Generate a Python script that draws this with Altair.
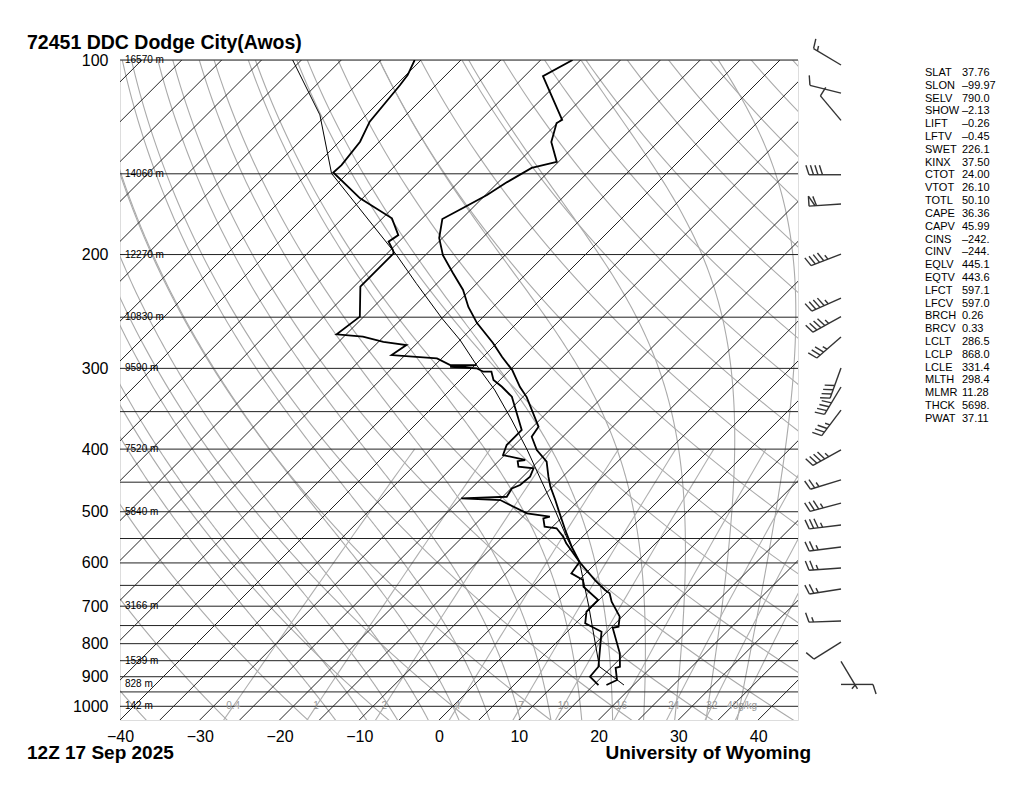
import numpy as np
import pandas as pd
import altair as alt

# ---------------- data ----------------
title_txt = "72451 DDC Dodge City(Awos)"
date_txt = "12Z 17 Sep 2025"
credit_txt = "University of Wyoming"

# temperature profile (hPa, degC)
temp_p = [100, 105.9, 123.8, 125.2, 133.9, 143.8, 146.9, 154.5, 161.8, 169.4, 176.2, 188.6,
          200.4, 213.6, 226.9, 241.1, 255.3, 274.1, 288.1, 301.8, 320.6, 332.3, 369.3, 382.7,
          401.2, 418.3, 441.2, 457.2, 479.6, 502.8, 533.6, 566.3, 598.0, 637.8, 660.7, 668.6,
          688.8, 726.7, 753.0, 755.9, 827.9, 868.5, 872.0, 910.7, 927.0]
temp_t = [-66.0, -67.7, -59.8, -60.1, -58.4, -55.2, -57.6, -58.9, -59.8, -61.2, -62.4, -60.4,
          -57.8, -54.3, -50.9, -48.1, -45.0, -40.5, -37.6, -34.7, -31.6, -29.5, -24.3, -23.9,
          -21.6, -18.9, -16.8, -15.3, -13.0, -10.8, -8.0, -5.1, -2.2, 2.0, 4.5, 5.5,
          6.8, 9.7, 10.8, 10.2, 14.3, 16.0, 15.6, 17.3, 16.6]

# dew point profile
dew_p = [100, 105.5, 109.3, 124.6, 133.8, 145.4, 149.3, 163.7, 175.8, 186.6, 191.0, 196.8,
         199.1, 224.2, 249.5, 265.7, 268.0, 272.9, 276.1, 286.1, 289.5, 296.5, 296.5, 298.3,
         299.9, 303.6, 303.6, 312.7, 320.3, 331.9, 373.6, 394.2, 408.5, 415.8, 417.5, 425.9,
         428.4, 441.2, 454.6, 460.2, 474.0, 476.8, 479.6, 502.8, 508.9, 512.0, 527.4, 530.4,
         546.6, 559.6, 598.0, 622.7, 637.8, 653.1, 684.7, 713.8, 744.0, 766.6, 868.5, 900.1, 927.0]
dew_t = [-85.8, -84.8, -84.5, -83.7, -82.4, -81.8, -81.9, -75.3, -68.8, -65.9, -66.3, -64.7,
         -64.2, -64.2, -60.5, -61.2, -57.6, -54.4, -51.1, -51.7, -45.6, -43.1, -39.8, -42.9,
         -39.4, -38.1, -37.1, -35.8, -33.9, -31.4, -26.0, -26.0, -25.2, -21.8, -22.6, -21.8,
         -19.7, -19.1, -19.3, -19.9, -19.5, -25.0, -19.9, -14.9, -11.6, -12.2, -11.0, -9.3,
         -7.4, -6.2, -2.2, -1.8, 0.5, 1.4, 4.9, 4.9, 6.2, 9.3, 13.3, 13.5, 15.6]

# lifted parcel path
parcel_p = [100, 121.6, 149.8, 200.4, 221.6, 251.0, 271.2, 296.5, 324.0, 360.6, 401.2, 446.6,
            496.9, 553.1, 598.0, 700.0, 868.0, 927.0]
parcel_t = [-101.1, -90.8, -82.0, -63.6, -57.6, -50.0, -45.0, -39.8, -34.4, -28.5, -22.8, -17.3,
            -11.8, -6.4, -2.2, 4.5, 13.4, 18.8]

# winds (hPa, direction deg, speed kt)
wind_p = [101.8, 112.5, 124.0, 150.5, 167.0, 199.7, 233.5, 249.5, 268.3, 299.7, 320.6, 348.1,
          401.2, 446.3, 484.8, 524.2, 567.0, 611.0, 658.4, 738.0, 795.5, 852.0, 925.0]
wind_dir = [301, 284, 320, 270, 266, 249, 246, 241, 229, 200, 211, 217,
            241, 253, 255, 263, 263, 266, 261, 268, 238, 149, 90]
wind_spd = [15, 10, 10, 40, 60, 45, 45, 45, 35, 40, 40, 35,
            45, 25, 35, 35, 25, 25, 25, 15, 10, 5, 10]

height_p = [100, 150, 200, 250, 300, 400, 500, 700, 850, 925, 1000]
height_lbl = ["16570 m", "14060 m", "12270 m", "10830 m", "9590 m", "7520 m", "5840 m",
              "3166 m", "1539 m", "828 m", "142 m"]

mixr_vals = [0.4, 1, 2, 4, 7, 10, 16, 24, 32, 40]
mixr_lbl = ["0.4", "1", "2", "4", "7", "10", "16", "24", "32", "40g/kg"]

x_ticks = [-40, -30, -20, -10, 0, 10, 20, 30, 40]
p_ticks = [100, 200, 300, 400, 500, 600, 700, 800, 900, 1000]
isobar_p = list(range(100, 1001, 50))

stat_names = ["SLAT", "SLON", "SELV", "SHOW", "LIFT", "LFTV", "SWET", "KINX", "CTOT", "VTOT",
              "TOTL", "CAPE", "CAPV", "CINS", "CINV", "EQLV", "EQTV", "LFCT", "LFCV", "BRCH",
              "BRCV", "LCLT", "LCLP", "LCLE", "MLTH", "MLMR", "THCK", "PWAT"]
stat_vals = ["37.76", "\u201399.97", "790.0", "\u20132.13", "\u20130.26", "\u20130.45", "226.1",
             "37.50", "24.00", "26.10", "50.10", "36.36", "45.99", "\u2013242.", "\u2013244.",
             "445.1", "443.6", "597.1", "597.0", "0.26", "0.33", "286.5", "868.0", "331.4",
             "298.4", "11.28", "5698.", "37.11"]

# background families (grid definitions)
isotherm_t = list(range(-125, 50, 5))
dry_theta = list(range(-40, 190, 10))
moist_t1000 = [-16, -12, -8, -4, 0, 4, 8, 12, 16, 20, 24, 28, 32, 36]
MR_TOP = 400.0

# ---------------- geometry of the diagram ----------------
W, H = 678, 660
P_TOP, P_BOT = 100.0, 1050.0
X_MIN, X_MAX = -40.0, 45.0
DEG_PX = W / (X_MAX - X_MIN)
PX_PER_DECADE = H / np.log10(P_BOT / P_TOP)
SKEW = PX_PER_DECADE / DEG_PX  # 45 degree isotherms


def skx(t, p):
    return np.asarray(t, float) + SKEW * np.log10(P_BOT / np.asarray(p, float))


FONT = "Liberation Sans"
xs = alt.Scale(domain=[X_MIN, X_MAX], nice=False, zero=False)
ys = alt.Scale(type="log", domain=[P_TOP, P_BOT], reverse=True, nice=False)

X_AX = alt.Axis(values=x_ticks, ticks=False, domain=False, grid=False, labelFontSize=16,
                labelPadding=8, title=None, labelFont=FONT, labelColor="black",
                labelFlush=False, labelOverlap=False)
Y_AX = alt.Axis(values=p_ticks, ticks=False, domain=False, grid=False, labelFontSize=16,
                labelPadding=12, title=None, labelFont=FONT, labelColor="black",
                labelFlush=False, labelOverlap=False, format="d")


def XE(field="X:Q"):
    return alt.X(field, scale=xs, axis=X_AX)


def YE(field="p:Q"):
    return alt.Y(field, scale=ys, axis=Y_AX)


# ---- background line tables ----
pgrid = np.geomspace(P_TOP * 0.97, P_BOT * 1.01, 80)
rows = []
for k, t0 in enumerate(isotherm_t):
    for i, p in enumerate([P_BOT * 1.01, P_TOP * 0.97]):
        rows.append(dict(id=f"t{k}", i=i, p=p, X=float(skx(t0, p))))
iso_df = pd.DataFrame(rows)

rows = []
for k, th in enumerate(dry_theta):
    T = (th + 273.15) * (pgrid / 1000.0) ** 0.2857 - 273.15
    for i, (p, t) in enumerate(zip(pgrid, T)):
        rows.append(dict(id=f"d{k}", i=i, p=p, X=float(skx(t, p))))
dry_df = pd.DataFrame(rows)


def rs(T, p):
    es = 6.112 * np.exp(17.67 * (T - 273.15) / (T - 29.65))
    return 0.622 * es / (p - es)


def dTdp(T, p):
    Rd, cp, L, eps = 287.04, 1005.7, 2.501e6, 0.622
    r = rs(T, p)
    return (Rd * T + L * r) / (cp + L * L * r * eps / (Rd * T * T)) / p


def moist_path(t0, p_end, n=300):
    ps = np.linspace(1000.0, p_end, n)
    T = t0 + 273.15
    out = [(1000.0, T)]
    for a, b in zip(ps[:-1], ps[1:]):
        h = b - a
        k1 = dTdp(T, a)
        k2 = dTdp(T + h * k1 / 2, a + h / 2)
        k3 = dTdp(T + h * k2 / 2, a + h / 2)
        k4 = dTdp(T + h * k3, b)
        T = T + h * (k1 + 2 * k2 + 2 * k3 + k4) / 6
        out.append((b, T))
    return out


rows = []
for k, t0 in enumerate(moist_t1000):
    up = moist_path(t0, P_TOP * 0.97)
    dn = moist_path(t0, P_BOT * 1.01, 20)
    pts = sorted(dn + up, key=lambda q: -q[0])
    for i, (p, T) in enumerate(pts):
        rows.append(dict(id=f"m{k}", i=i, p=p, X=float(skx(T - 273.15, p))))
moist_df = pd.DataFrame(rows)


def td_from_w(w, p):
    e = w * p / (622.0 + w)
    g = np.log(e / 6.112)
    return 243.5 * g / (17.67 - g)


rows = []
mr_grid = np.geomspace(MR_TOP, P_BOT * 1.01, 30)
for k, w in enumerate(mixr_vals):
    for i, p in enumerate(mr_grid):
        rows.append(dict(id=f"w{k}", i=i, p=p, X=float(skx(td_from_w(w, p), p))))
mr_df = pd.DataFrame(rows)
mr_lbl_df = pd.DataFrame(dict(p=[1000.0] * len(mixr_vals),
                              X=[float(skx(td_from_w(w, 1000.0), 1000.0)) for w in mixr_vals],
                              lbl=mixr_lbl))

prof_df = pd.concat([
    pd.DataFrame(dict(s="T", i=range(len(temp_p)), p=temp_p, X=skx(temp_t, temp_p))),
    pd.DataFrame(dict(s="Td", i=range(len(dew_p)), p=dew_p, X=skx(dew_t, dew_p))),
])
parcel_df = pd.DataFrame(dict(i=range(len(parcel_p)), p=parcel_p, X=skx(parcel_t, parcel_p)))


def bg_layer(df, color, width):
    return alt.Chart(df).mark_line(clip=True, color=color, strokeWidth=width).encode(
        x=XE(), y=YE(), detail="id:N", order="i:Q")


isobars = alt.Chart(pd.DataFrame(dict(p=isobar_p))).mark_rule(
    color="#222", strokeWidth=1).encode(y=YE())

heights = alt.Chart(pd.DataFrame(dict(p=height_p, lbl=height_lbl))).mark_text(
    align="left", baseline="middle", fontSize=10, font=FONT, color="black").encode(
    x=alt.value(5), y=YE(), text="lbl:N")

mr_text = alt.Chart(mr_lbl_df).mark_text(
    align="center", baseline="middle", fontSize=10, font=FONT, color="#999").encode(
    x=XE(), y=YE(), text="lbl:N")

profiles = alt.Chart(prof_df).mark_line(clip=True, color="black", strokeWidth=1.8).encode(
    x=XE(), y=YE(), detail="s:N", order="i:Q")

parcel = alt.Chart(parcel_df).mark_line(clip=True, color="black", strokeWidth=1).encode(
    x=XE(), y=YE(), order="i:Q")

main = alt.layer(
    bg_layer(dry_df, "#aaaaaa", 1.1),
    bg_layer(moist_df, "#aaaaaa", 1.1),
    bg_layer(mr_df, "#b0b0b0", 1.1),
    bg_layer(iso_df, "#222222", 1.0),
    isobars, heights, mr_text, parcel, profiles,
)

# ---- wind barbs (built from direction / speed) ----
BASE_X = 721.0
STAFF, BARB, GAP, PW, SLANT = 32.0, 10.0, 4.5, 6.0, np.deg2rad(18)
segs = []
for p0, d, s in zip(wind_p, wind_dir, wind_spd):
    a = np.deg2rad(d)
    u = np.array([np.sin(a), np.cos(a)])
    r = np.array([u[1], -u[0]])
    fv = np.cos(SLANT) * r + np.sin(SLANT) * u

    def add(p1, p2):
        segs.append(dict(x0=BASE_X + p1[0], x1=BASE_X + p2[0],
                         p0=p0 * 10 ** (-p1[1] / PX_PER_DECADE),
                         p1=p0 * 10 ** (-p2[1] / PX_PER_DECADE)))

    add(np.zeros(2), STAFF * u)
    n50, rem = divmod(int(round(s / 5.0)) * 5, 50)
    n10, rem = divmod(rem, 10)
    n5 = rem // 5
    t = STAFF
    for _ in range(n50):
        a1, a2 = t * u, (t - PW) * u
        apex = t * u + BARB * r
        add(a1, apex)
        add(apex, a2)
        t -= PW + 1.5
    for _ in range(n10):
        add(t * u, t * u + BARB * fv)
        t -= GAP
    if n5:
        if n50 == 0 and n10 == 0:
            t -= GAP
        add(t * u, t * u + 0.5 * BARB * fv)
barb_df = pd.DataFrame(segs)

barbs = alt.Chart(barb_df).mark_rule(color="#333", strokeWidth=1.4).encode(
    x=alt.X("x0:Q", scale=alt.Scale(domain=[0, W], nice=False, zero=False), axis=None),
    x2="x1:Q",
    y=YE("p0:Q"), y2="p1:Q")

one = alt.Data(values=[{"a": 1}])
names_txt = alt.Chart(one).mark_text(
    text=stat_names, lineHeight=12.81, align="left", baseline="alphabetic",
    fontSize=11, font=FONT, color="black").encode(x=alt.value(805), y=alt.value(16))
vals_txt = alt.Chart(one).mark_text(
    text=stat_vals, lineHeight=12.81, align="left", baseline="alphabetic",
    fontSize=11, font=FONT, color="black").encode(x=alt.value(842), y=alt.value(16))

t1 = alt.Chart(one).mark_text(text=title_txt, align="left", baseline="alphabetic",
                              fontSize=19.5, fontWeight="bold", font=FONT, color="black").encode(
    x=alt.value(-93), y=alt.value(-11))
t2 = alt.Chart(one).mark_text(text=date_txt, align="left", baseline="alphabetic",
                              fontSize=19, fontWeight="bold", font=FONT, color="black").encode(
    x=alt.value(-93), y=alt.value(699))
t3 = alt.Chart(one).mark_text(text=credit_txt, align="right", baseline="alphabetic",
                              fontSize=19, fontWeight="bold", font=FONT, color="black").encode(
    x=alt.value(691), y=alt.value(699))

chart = alt.layer(main, barbs, names_txt, vals_txt, t1, t2, t3).resolve_scale(
    x="independent").properties(
    width=W, height=H,
    padding={"left": 112, "top": 52, "right": 210, "bottom": 44},
    autosize=alt.AutoSizeParams(type="none"),
).configure_view(stroke="#555", strokeWidth=1.5).configure(background="white")

chart.save("out.html", embed_options={"renderer": "svg", "actions": False})
